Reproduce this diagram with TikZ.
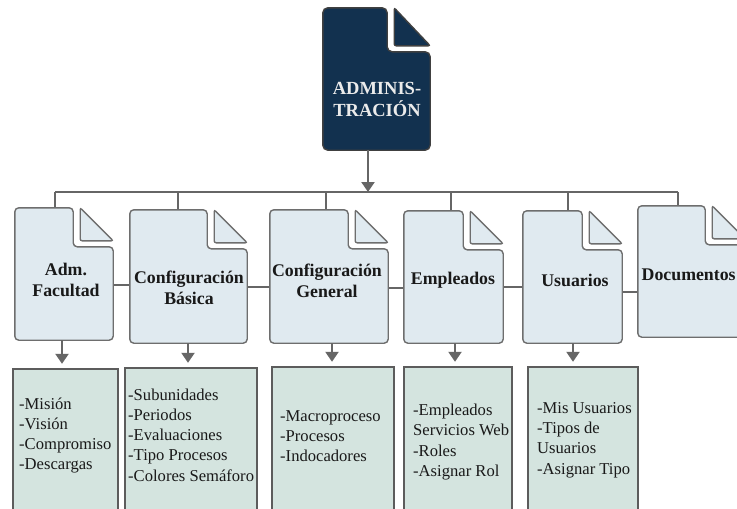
\documentclass[tikz,border=0pt]{standalone}
\usepackage{fontspec}
\setmainfont{Liberation Serif}
\usetikzlibrary{arrows.meta,calc}

\definecolor{navy}{RGB}{18,49,79}
\definecolor{pagefill}{RGB}{224,234,240}
\definecolor{boxfill}{RGB}{212,228,223}
\definecolor{wiregray}{RGB}{102,102,102}
\definecolor{edgegray}{RGB}{110,110,110}
\definecolor{boxedge}{RGB}{92,92,92}

% folded page outline around an empty node: #1 node, #2 style, #3 notch width, #4 notch depth
\newcommand\foldedpage[4]{%
  \draw[#2] (#1.south west) -- (#1.north west)
    -- ([xshift={-#3*1pt}]#1.north east)
    -- ([xshift={-#3*1pt},yshift={-#4*1pt}]#1.north east)
    -- ([yshift={-#4*1pt}]#1.north east)
    -- (#1.south east) -- cycle;
  \draw[#2,rounded corners=2pt] ([xshift={(-#3+7)*1pt}]#1.north east)
    -- ([xshift={(-#3+7)*1pt},yshift={(-#4+6)*1pt}]#1.north east)
    -- ([yshift={(-#4+6)*1pt}]#1.north east) -- cycle;
}

\tikzset{
  pagebox/.style={rectangle,inner sep=0pt,minimum width=#1},
  lightpage/.style={fill=pagefill,draw=edgegray,line width=1.4pt,rounded corners=4pt},
  darkpage/.style={fill=navy,draw=black!75,line width=1.4pt,rounded corners=5pt},
  pagelabel/.style={font=\bfseries\fontsize{17.8}{21.5}\selectfont,align=center,text=black!90,inner sep=0pt},
  toplabel/.style={font=\bfseries\fontsize{18.5}{22}\selectfont,align=center,text=white!92!black,inner sep=0pt},
  listbox/.style={rectangle,fill=boxfill,draw=boxedge,line width=2.4pt,inner sep=0pt},
  listtext/.style={font=\fontsize{16.6}{20.2}\selectfont,align=left,anchor=west,inner sep=0pt,text=black!90},
  wire/.style={draw=wiregray,line width=2.2pt},
  arrowwire/.style={wire,-{Triangle[width=13pt,length=10pt]}},
}

\begin{document}
\begin{tikzpicture}[x=1pt,y=-1pt]
\useasboundingbox (0,0) rectangle (737,509);
\clip (0,0) rectangle (737,509);
\fill[white] (0,0) rectangle (737,509);

% top page
\node[pagebox=107pt,minimum height=142pt] (T) at (376.5,79) {};
\foldedpage{T}{darkpage}{43}{44}
\node[toplabel] (TL) at (377,99) {ADMINIS-\\TRACIÓN};

% second-level pages
\node[pagebox=98pt,minimum height=132pt] (d1) at (64,274) {};
\node[pagebox=117pt,minimum height=133pt] (d2) at (188.5,276.5) {};
\node[pagebox=118pt,minimum height=133pt] (d3) at (329,276.5) {};
\node[pagebox=99pt,minimum height=132pt] (d4) at (453.5,277) {};
\node[pagebox=99pt,minimum height=132pt] (d5) at (572.5,277) {};
\node[pagebox=107pt,minimum height=131pt] (d6) at (691.5,271.5) {};

% bus and drops
\coordinate (j0) at (368,192);
\coordinate (j1) at (55,192);
\coordinate (j2) at (178,192);
\coordinate (j3) at (326,192);
\coordinate (j4) at (451,192);
\coordinate (j5) at (568,192);
\coordinate (j6) at (678,192);
\draw[wire] (j1) -- (j6);
\foreach \i in {1,...,6}{\draw[wire] (j\i) -- (j\i |- d\i.north);}
\draw[arrowwire] (T.south -| j0) -- (j0);

% links between neighbouring pages
\draw[wire] (d1.east |- 0,285) -- (d2.west |- 0,285);
\draw[wire] (d2.east |- 0,287) -- (d3.west |- 0,287);
\draw[wire] (d3.east |- 0,288) -- (d4.west |- 0,288);
\draw[wire] (d4.east |- 0,287) -- (d5.west |- 0,287);
\draw[wire] (d5.east |- 0,292) -- (d6.west |- 0,292);

\foreach \i in {1,...,6}{\foldedpage{d\i}{lightpage}{40}{39}}

\node[pagelabel] (l1) at (66,280) {Adm.\\Facultad};
\node[pagelabel] (l2) at (189,288) {Configuración\\Básica};
\node[pagelabel] (l3) at (327,281) {Configuración\\General};
\node[pagelabel] (l4) at (453,280) {Empleados};
\node[pagelabel] (l5) at (575,280) {Usuarios};
\node[pagelabel,anchor=west] (l6) at (641.5,275) {Documentos};

% lists
\node[listbox,minimum width=105pt,minimum height=151pt] (b1) at (65.5,444.5) {};
\node[listbox,minimum width=132pt,minimum height=152pt] (b2) at (191,444) {};
\node[listbox,minimum width=122pt,minimum height=153pt] (b3) at (333,443.5) {};
\node[listbox,minimum width=108pt,minimum height=153pt] (b4) at (458,443.5) {};
\node[listbox,minimum width=110pt,minimum height=153pt] (b5) at (583,443.5) {};

\draw[arrowwire] ([xshift=-2pt]d1.south) -- ([xshift=-3.5pt,yshift=4pt]b1.north);
\draw[arrowwire] (d2.south -| 188,0) -- ([yshift=4pt]b2.north -| 188,0);
\draw[arrowwire] (d3.south -| 332,0) -- ([yshift=4pt]b3.north -| 332,0);
\draw[arrowwire] (d4.south -| 455,0) -- ([yshift=4pt]b4.north -| 455,0);
\draw[arrowwire] (d5.south -| 573,0) -- ([yshift=4pt]b5.north -| 573,0);

\node[listtext] (t1) at (19,435.5) {-Misión\\-Visión\\-Compromiso\\-Descargas};
\node[listtext] (t2) at (128,435) {-Subunidades\\-Periodos\\-Evaluaciones\\-Tipo Procesos\\-Colores Semáforo};
\node[listtext] (t3) at (280,436) {-Macroproceso\\-Procesos\\-Indocadores};
\node[listtext] (t4) at (413,442) {-Empleados\\Servicios Web\\-Roles\\-Asignar Rol};
\node[listtext] (t5) at (537,440) {-Mis Usuarios\\-Tipos de\\Usuarios\\-Asignar Tipo};
\end{tikzpicture}
\end{document}
